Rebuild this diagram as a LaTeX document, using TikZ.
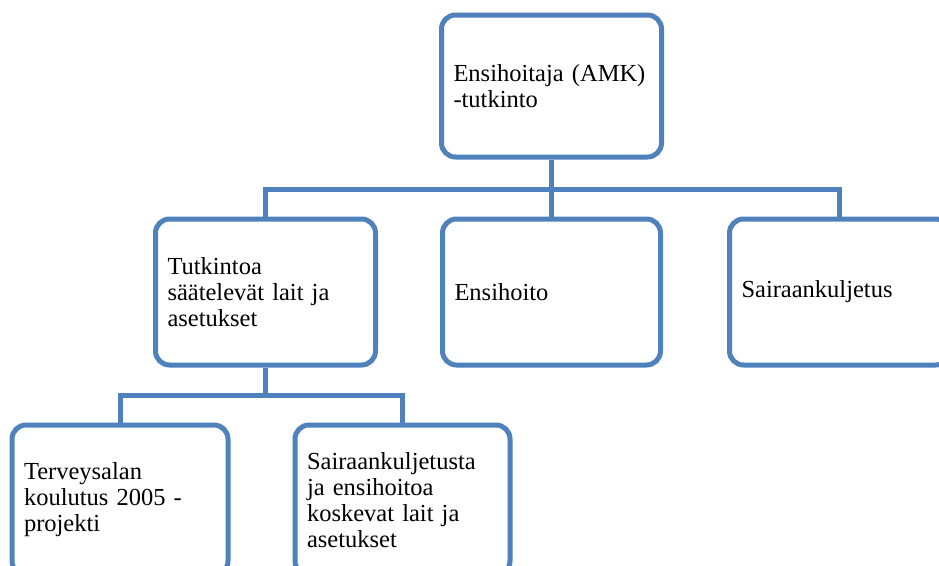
\documentclass[tikz,border=0pt]{standalone}
\usepackage{fontspec}
\setmainfont{Liberation Serif}
\definecolor{boxblue}{HTML}{4F81BD}
\begin{document}
\begin{tikzpicture}[x=1pt,y=-1pt,
  box/.style={draw=boxblue, line width=5pt, rounded corners=14pt, fill=white,
    rectangle, inner xsep=12pt, inner ysep=0pt, align=left,
    font=\fontsize{24.5}{26}\selectfont},
  conn/.style={draw=boxblue, line width=5pt}]
\useasboundingbox (0,0) rectangle (939,565);
\fill[white] (0,0) rectangle (939,565);
\begin{scope}
\clip (0,0) rectangle (939,565);
\node[box, minimum width=216pt, minimum height=142pt, text width=196pt] (top) at (551.5,86) {Ensihoitaja (AMK)\\-tutkinto};
\node[box, minimum width=220pt, minimum height=146pt, text width=196pt] (tut) at (265.5,292) {Tutkintoa\\säätelevät lait ja\\asetukset};
\node[box, minimum width=218pt, minimum height=146pt, text width=194pt] (ens) at (551.5,292) {Ensihoito};
\node[box, minimum width=220pt, minimum height=146pt, text width=196pt] (sai) at (839.5,292) {Sairaankuljetus};
\node[box, minimum width=216pt, minimum height=150pt, text width=192pt] (ter) at (120,500) {Terveysalan\\koulutus 2005 -\\projekti};
\node[box, minimum width=215pt, minimum height=150pt, text width=191pt] (sak) at (402.5,500) {Sairaankuljetusta\\ja ensihoitoa\\koskevat lait ja\\asetukset};
\coordinate (bus1) at (551.5,189);
\coordinate (bus2) at (265.5,395);
\draw[conn] (top.south) -- (bus1);
\draw[conn] (tut.north) |- (bus1) -| (sai.north);
\draw[conn] (bus1) -- (ens.north);
\draw[conn] (tut.south) -- (bus2);
\draw[conn] (ter.north) |- (bus2) -| (sak.north);
\end{scope}
\end{tikzpicture}
\end{document}
